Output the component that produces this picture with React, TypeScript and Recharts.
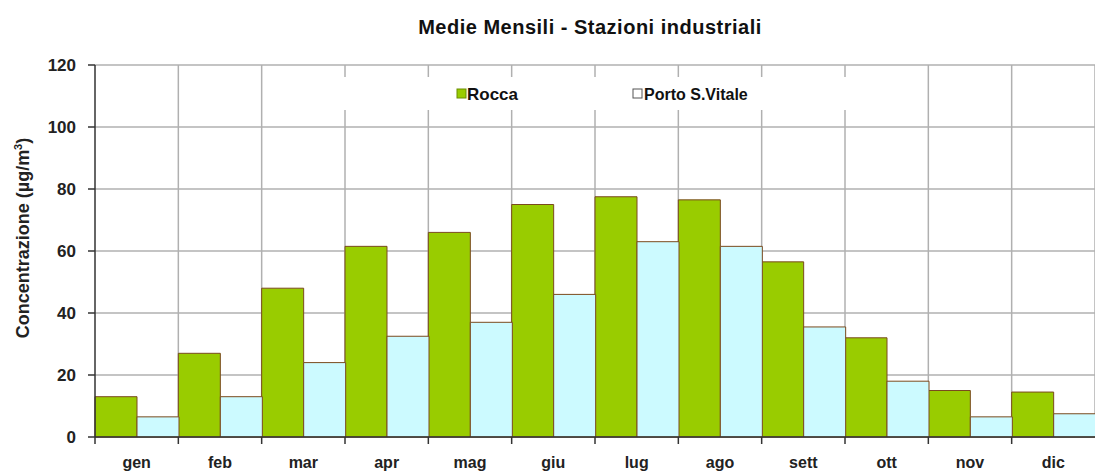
import { BarChart, Bar, XAxis, YAxis, CartesianGrid } from 'recharts';

const MESI = ['gen', 'feb', 'mar', 'apr', 'mag', 'giu', 'lug', 'ago', 'sett', 'ott', 'nov', 'dic'];
const ROCCA = [13, 27, 48, 61.5, 66, 75, 77.5, 76.5, 56.5, 32, 15, 14.5];
const PORTO = [6.5, 13, 24, 32.5, 37, 46, 63, 61.5, 35.5, 18, 6.5, 7.5];
const Y_TICKS = [0, 20, 40, 60, 80, 100, 120];

const W = 1095;
const H = 473;
const LEFT = 95;
const TOP = 65;
const BOTTOM = 36;
const BAND = (W - LEFT) / MESI.length;

const data = MESI.map((m, i) => ({ mese: m, rocca: ROCCA[i], porto: PORTO[i] }));

const FONT = "'Liberation Sans', Arial, sans-serif";

function MonthTick(props: any) {
  const { x, y, payload } = props;
  const left = x - BAND / 2;
  return (
    <g>
      <line x1={left} y1={y - 8} x2={left} y2={y - 1} stroke="#333" strokeWidth={1.5} />
      <text x={x} y={y + 23} textAnchor="middle" fontFamily={FONT} fontWeight="bold" fontSize={16} fill="#222">
        {payload.value}
      </text>
    </g>
  );
}

function ValueTick(props: any) {
  const { x, y, payload } = props;
  return (
    <text x={x - 10} y={y + 6} textAnchor="end" fontFamily={FONT} fontWeight="bold" fontSize={17} fill="#222">
      {payload.value}
    </text>
  );
}

function LegendBox() {
  return (
    <g fontFamily={FONT} fontWeight="bold" fontSize={17} fill="#111">
      <rect x={330} y={77} width={540} height={33} fill="#fff" />
      <rect x={457} y={89} width={9} height={9} fill="#99cc00" stroke="#6b8e00" />
      <text x={467} y={100}>Rocca</text>
      <rect x={633} y={89} width={9} height={9} fill="#ffffff" stroke="#555" />
      <text x={644} y={100} fontSize={16}>Porto S.Vitale</text>
    </g>
  );
}

export default function App() {
  return (
    <div style={{ position: 'absolute', left: 0, top: 0, width: W, height: H, background: '#fff' }}>
      <svg width={W} height={H} style={{ position: 'absolute', left: 0, top: 0, pointerEvents: 'none', zIndex: 2 }}>
        <text x={590} y={34} textAnchor="middle" fontFamily={FONT} fontWeight="bold" fontSize={20} letterSpacing={0.5} fill="#111">
          Medie Mensili - Stazioni industriali
        </text>
        <text
          transform="translate(29 238) rotate(-90)"
          textAnchor="middle"
          fontFamily={FONT}
          fontWeight="bold"
          fontSize={18}
          fill="#222"
        >
          Concentrazione (µg/m<tspan dy={-7} fontSize={11}>3</tspan><tspan dy={7}>)</tspan>
        </text>
        <LegendBox />
      </svg>
      <BarChart
        width={W}
        height={H}
        data={data}
        barCategoryGap={0}
        barGap={0}
        margin={{ top: TOP, right: 0, left: 0, bottom: BOTTOM - 30 }}
      >
        <CartesianGrid
          stroke="#b0b0b0"
          strokeWidth={1.5}
          horizontalValues={Y_TICKS}
          verticalCoordinatesGenerator={({ offset }: any) =>
            MESI.map((_, i) => offset.left + (i + 1) * (offset.width / MESI.length))
          }
        />
        <XAxis
          dataKey="mese"
          height={30}
          axisLine={{ stroke: '#333', strokeWidth: 1.5 }}
          tickLine={false}
          tick={<MonthTick />}
          interval={0}
        />
        <YAxis
          width={LEFT}
          domain={[0, 120]}
          ticks={Y_TICKS}
          axisLine={{ stroke: '#333', strokeWidth: 1.5 }}
          tickLine={{ stroke: '#333', strokeWidth: 1.5 }}
          tickSize={7}
          tick={<ValueTick />}
        />
        <Bar dataKey="rocca" fill="#99cc00" stroke="#7a4a1e" strokeWidth={1} isAnimationActive={false} />
        <Bar dataKey="porto" fill="#ccfaff" stroke="#7a4a1e" strokeWidth={1} isAnimationActive={false} />
      </BarChart>
    </div>
  );
}
